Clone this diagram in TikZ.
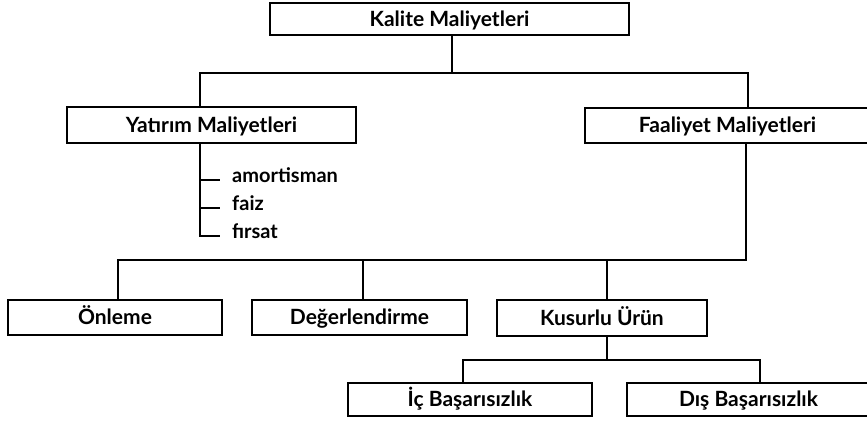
\documentclass[tikz,border=0pt]{standalone}
\usepackage{fontspec}
\setmainfont{Lato}
\tikzset{
  kutu/.style={draw, line width=2pt, inner sep=0pt, text height=14.5pt, text depth=0pt,
    font=\bfseries\fontsize{21}{25}\selectfont},
  kalem/.style={anchor=west, inner sep=0pt, text height=1ex, text depth=0pt,
    font=\bfseries\fontsize{20}{24}\selectfont},
  hat/.style={line width=2pt}
}
\begin{document}
\begin{tikzpicture}[x=1pt, y=-1pt]
  \useasboundingbox (0,0) rectangle (867,422);

  % Kutular
  \node[kutu, minimum width=359pt, minimum height=32pt] (kalite) at (449.5,19) {Kalite Maliyetleri};
  \node[kutu, minimum width=289pt, minimum height=36pt] (yatirim) at (211.5,125) {Yatırım Maliyetleri};
  \node[kutu, minimum width=285pt, minimum height=35pt] (faaliyet) at (727.5,125.5) {Faaliyet Maliyetleri};
  \node[kutu, minimum width=214pt, minimum height=35pt] (onleme) at (115,317.5) {Önleme};
  \node[kutu, minimum width=215pt, minimum height=35pt] (degerlendirme) at (359.5,317.5) {Değerlendirme};
  \node[kutu, minimum width=210pt, minimum height=36pt] (kusurlu) at (602,318) {Kusurlu Ürün};
  \node[kutu, minimum width=244pt, minimum height=33pt] (ic) at (470,399.5) {İç Başarısızlık};
  \node[kutu, minimum width=243pt, minimum height=33pt] (dis) at (748.5,399.5) {Dış Başarısızlık};

  % Kalemler
  \node[kalem] (amortisman) at (232,180) {amortisman};
  \node[kalem] (faiz) at (232,208) {faiz};
  \node[kalem] (firsat) at (232,236) {fırsat};

  % Baglantilar
  \coordinate (ust) at (0,73);
  \coordinate (orta) at (0,260);
  \coordinate (alt) at (0,360);
  \coordinate (dal) at (200,0);

  \draw[hat] ([xshift=2.5pt]kalite.south) -- ([xshift=2.5pt]kalite.south |- ust);
  \draw[hat] (yatirim.north -| dal) |- ([xshift=20.5pt]faaliyet.north |- ust) -- ([xshift=20.5pt]faaliyet.north);

  \draw[hat] (yatirim.south -| dal) |- ([xshift=-12pt]firsat.west);
  \draw[hat] (amortisman.west -| dal) -- ([xshift=-12pt]amortisman.west);
  \draw[hat] (faiz.west -| dal) -- ([xshift=-12pt]faiz.west);

  \draw[hat] ([xshift=18.5pt]faaliyet.south) |- ([xshift=3pt]onleme.north |- orta) -- ([xshift=3pt]onleme.north);
  \draw[hat] ([xshift=3.5pt]degerlendirme.north) -- ([xshift=3.5pt]degerlendirme.north |- orta);
  \draw[hat] ([xshift=5pt]kusurlu.north) -- ([xshift=5pt]kusurlu.north |- orta);

  \draw[hat] ([xshift=5pt]kusurlu.south) -- ([xshift=5pt]kusurlu.south |- alt);
  \draw[hat] ([xshift=-7pt]ic.north) |- ([xshift=11.5pt]dis.north |- alt) -- ([xshift=11.5pt]dis.north);
\end{tikzpicture}
\end{document}
